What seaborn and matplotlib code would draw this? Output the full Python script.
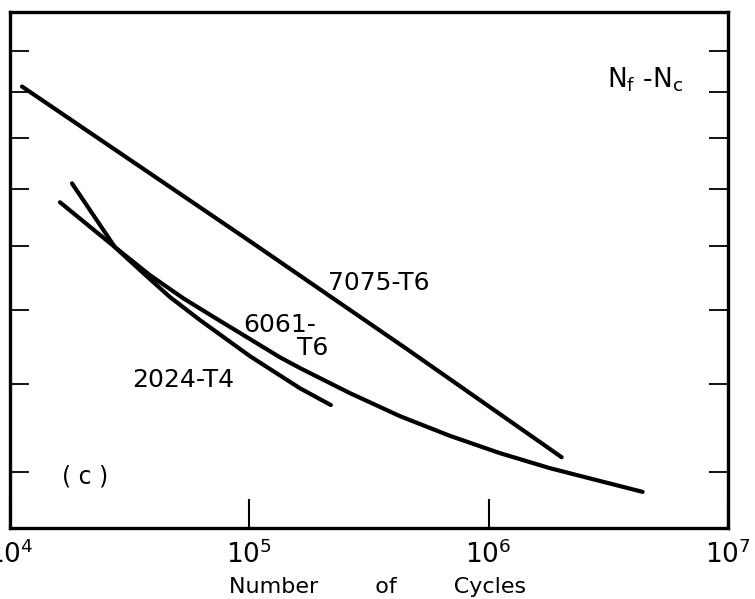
import numpy as np
import pandas as pd
import matplotlib
matplotlib.use("Agg")
import matplotlib.pyplot as plt
import seaborn as sns
from matplotlib.ticker import NullLocator, NullFormatter, FixedLocator

# Curves (cycles, stress amplitude in ksi)
cycles_7075 = [1.122e4, 1.005e5, 4.546e5, 2.017e6]
stress_7075 = [22.27, 16.15, 12.91, 10.31]

cycles_6061 = [1.617e4, 2.744e4, 3.842e4, 5.277e4, 7.317e4, 1.005e5, 1.341e5,
               1.625e5, 2.628e5, 4.25e5, 6.874e5, 1.111e6, 1.797e6, 2.908e6,
               4.395e6]
stress_6061 = [17.51, 15.95, 15.05, 14.35, 13.74, 13.18, 12.69,
               12.41, 11.78, 11.23, 10.78, 10.40, 10.08, 9.815,
               9.594]

cycles_2024 = [1.815e4, 2.744e4, 3.49e4, 4.657e4, 6.214e4, 1.005e5, 1.625e5, 2.19e5]
stress_2024 = [18.21, 15.95, 15.21, 14.38, 13.71, 12.72, 11.90, 11.49]

x_ticks = [1e4, 1e5, 1e6, 1e7]
x_tick_labels = [r"$10^4$", r"$10^5$", r"$10^6$", r"$10^7$"]
y_ticks = [10, 12, 14, 16, 18, 20, 22, 24]

df = pd.concat([
    pd.DataFrame({"cycles": cycles_7075, "stress": stress_7075, "alloy": "7075-T6"}),
    pd.DataFrame({"cycles": cycles_6061, "stress": stress_6061, "alloy": "6061-T6"}),
    pd.DataFrame({"cycles": cycles_2024, "stress": stress_2024, "alloy": "2024-T4"}),
])

sns.set_style("white")
plt.rcParams["font.family"] = ["DejaVu Sans"]
plt.rcParams["mathtext.default"] = "regular"
plt.rcParams["text.color"] = "black"
plt.rcParams["xtick.color"] = "black"
plt.rcParams["ytick.color"] = "black"
plt.rcParams["axes.labelcolor"] = "black"

fig = plt.figure(figsize=(7.55, 5.99), dpi=100)
ax = fig.add_axes([0.0133, 0.1185, 0.951, 0.8615])

sns.lineplot(data=df, x="cycles", y="stress", hue="alloy", units="alloy",
             estimator=None, sort=False, palette=["black"] * 3,
             linewidth=3.0, legend=False, ax=ax,
             solid_capstyle="round", solid_joinstyle="round")

ax.set_xscale("log")
ax.set_yscale("log")
ax.set_xlim(1e4, 1e7)
ax.set_ylim(8.9, 26.0)

ax.xaxis.set_major_locator(FixedLocator(x_ticks))
ax.set_xticklabels(x_tick_labels, fontsize=19)
ax.xaxis.set_minor_locator(NullLocator())
ax.yaxis.set_major_locator(FixedLocator(y_ticks))
ax.yaxis.set_major_formatter(NullFormatter())
ax.yaxis.set_minor_locator(NullLocator())
ax.yaxis.set_minor_formatter(NullFormatter())

ax.tick_params(axis="x", direction="in", length=21, width=1.5, pad=9,
               bottom=True, top=False)
ax.tick_params(axis="y", direction="in", length=14, width=1.3,
               left=True, right=True)

for s in ax.spines.values():
    s.set_color("black")
    s.set_linewidth(2.4)

ax.set_xlabel("Number        of        Cycles", fontsize=16)
ax.xaxis.set_label_coords(0.512, -0.095)
ax.set_ylabel("")

ax.text(0.443, 0.461, "7075-T6", transform=ax.transAxes, fontsize=18)
ax.text(0.3245, 0.380, "6061-", transform=ax.transAxes, fontsize=18)
ax.text(0.400, 0.335, "T6", transform=ax.transAxes, fontsize=18)
ax.text(0.170, 0.273, "2024-T4", transform=ax.transAxes, fontsize=18)
ax.text(0.0724, 0.10, "( c )", transform=ax.transAxes, fontsize=17, va="center")
ax.text(0.831, 0.853, r"$N_f$ -$N_c$", transform=ax.transAxes, fontsize=19)

fig.savefig("out.png", dpi=100)
